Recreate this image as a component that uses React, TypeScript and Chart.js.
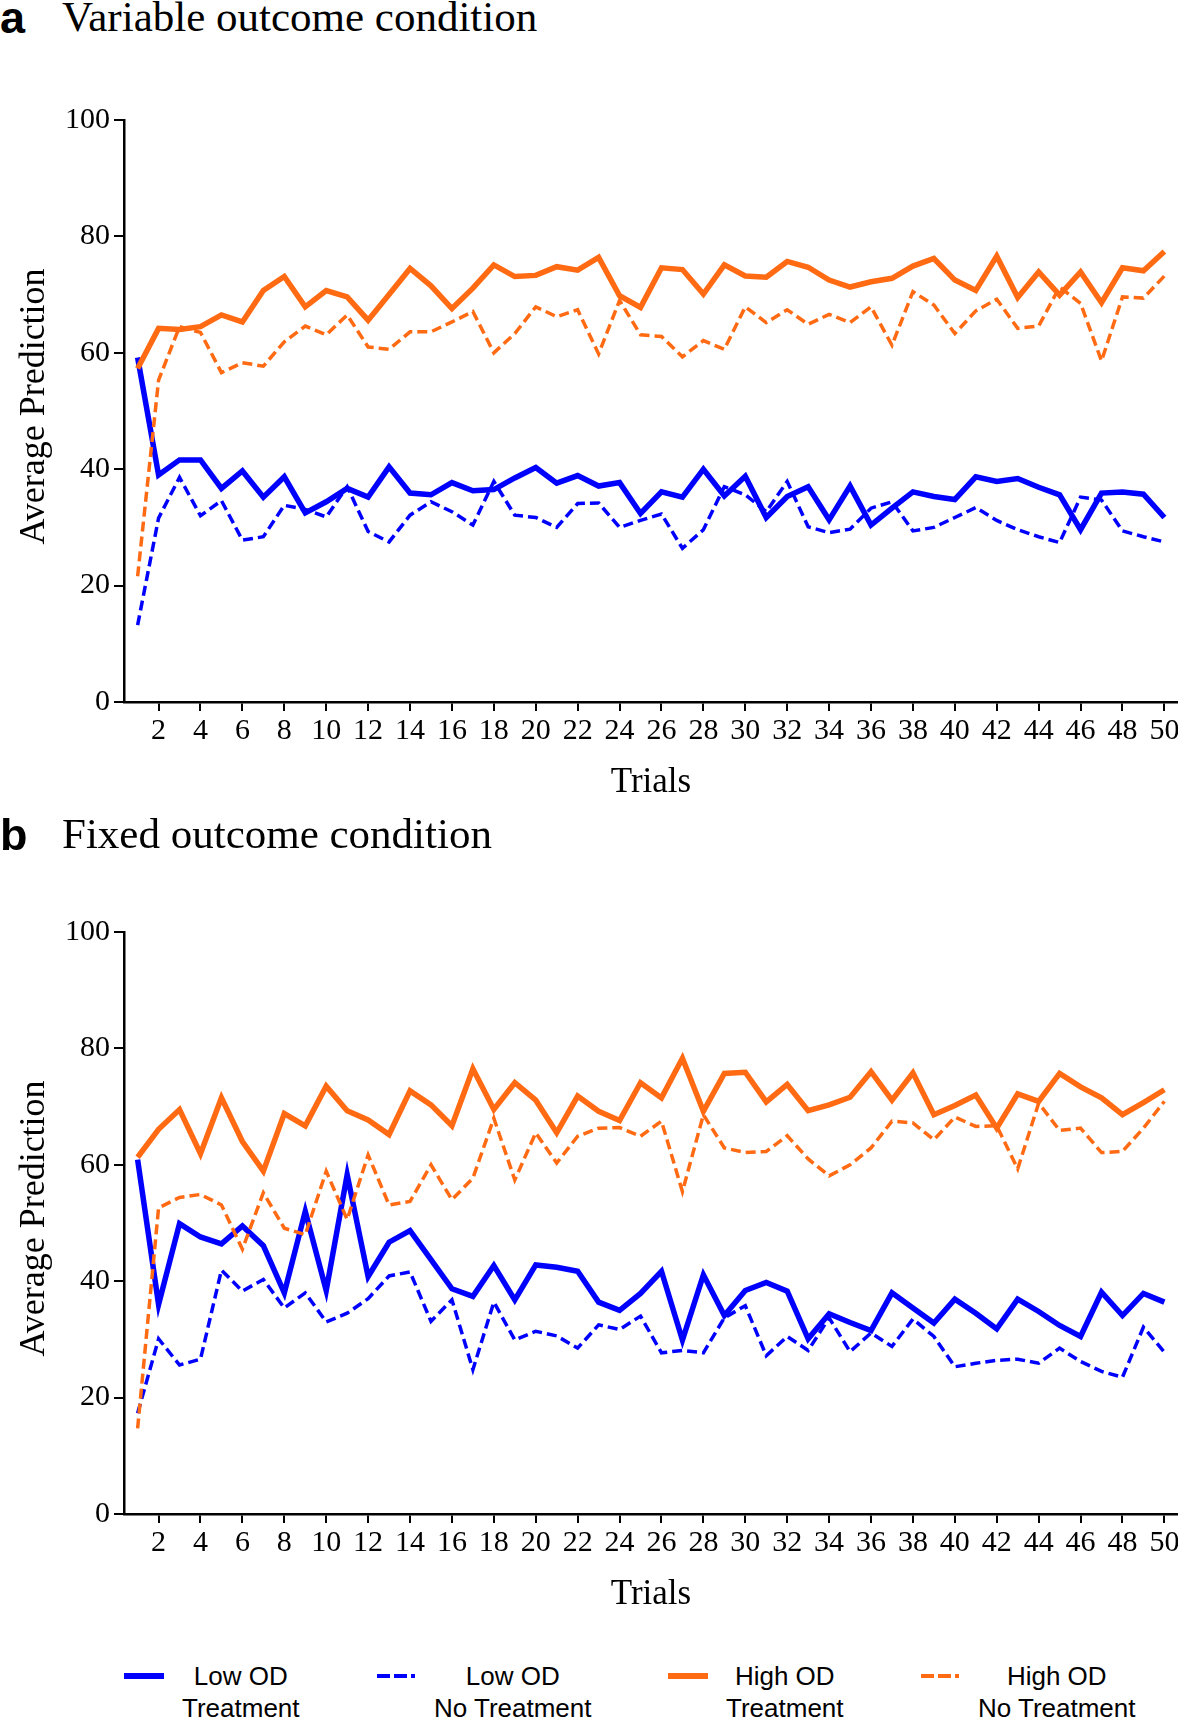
import { useEffect, useRef } from "react";
import { Chart, registerables } from "chart.js";

Chart.register(...registerables);

// ---------------- data ----------------
const trials = [
  1, 2, 3, 4, 5, 6, 7, 8, 9, 10, 11, 12, 13, 14, 15, 16, 17, 18, 19, 20, 21, 22, 23, 24, 25,
  26, 27, 28, 29, 30, 31, 32, 33, 34, 35, 36, 37, 38, 39, 40, 41, 42, 43, 44, 45, 46, 47, 48, 49, 50,
];
const xTickValues = [2, 4, 6, 8, 10, 12, 14, 16, 18, 20, 22, 24, 26, 28, 30, 32, 34, 36, 38, 40, 42, 44, 46, 48, 50];
const yTickValues = [0, 20, 40, 60, 80, 100];

const seriesNames = ["Low OD Treatment", "Low OD No Treatment", "High OD Treatment", "High OD No Treatment"];

// Panel a: Variable outcome condition
const aLowTreatment = [
  59.2, 39.0, 41.6, 41.6, 36.7, 39.7, 35.2, 38.7, 32.5, 34.4, 36.7, 35.2, 40.4, 35.9, 35.6, 37.7, 36.3, 36.5, 38.5, 40.3,
  37.6, 38.9, 37.1, 37.7, 32.4, 36.1, 35.2, 40.0, 35.4, 38.8, 31.7, 35.3, 37.0, 31.3, 37.1, 30.4, 33.3, 36.1, 35.3, 34.8,
  38.7, 37.9, 38.4, 36.9, 35.6, 29.6, 35.9, 36.1, 35.7, 31.7,
];
const aLowNoTreatment = [
  13.2, 31.6, 38.6, 32.0, 34.6, 27.8, 28.4, 33.8, 33.1, 31.8, 37.0, 29.3, 27.5, 32.1, 34.4, 32.7, 30.4, 37.9, 32.1, 31.7,
  30.0, 34.1, 34.2, 30.0, 31.2, 32.3, 26.4, 29.6, 37.0, 35.6, 32.7, 37.9, 30.1, 29.1, 29.7, 33.3, 34.4, 29.4, 30.0, 31.7,
  33.4, 31.2, 29.6, 28.4, 27.4, 35.2, 34.7, 29.4, 28.4, 27.5,
];
const aHighTreatment = [
  57.3, 64.2, 64.0, 64.5, 66.5, 65.3, 70.7, 73.1, 67.9, 70.7, 69.6, 65.6, 70.0, 74.5, 71.5, 67.6, 71.1, 75.1, 73.1, 73.3,
  74.8, 74.2, 76.4, 69.8, 67.8, 74.6, 74.3, 70.1, 75.1, 73.2, 73.0, 75.7, 74.7, 72.5, 71.3, 72.2, 72.8, 74.9, 76.2, 72.5,
  70.7, 76.6, 69.5, 73.9, 69.9, 73.9, 68.6, 74.6, 74.1, 77.4,
];
const aHighNoTreatment = [
  21.6, 55.3, 64.5, 63.5, 56.6, 58.3, 57.7, 61.9, 64.6, 63.1, 66.5, 61.0, 60.6, 63.6, 63.6, 65.3, 67.1, 60.0, 63.3, 67.9,
  66.2, 67.4, 59.8, 69.0, 63.1, 62.8, 59.3, 62.1, 60.6, 67.9, 65.2, 67.4, 64.9, 66.6, 65.2, 67.9, 61.3, 70.5, 68.2, 63.3,
  67.2, 69.2, 64.2, 64.6, 71.3, 68.5, 58.6, 69.6, 69.4, 73.2,
];

// Panel b: Fixed outcome condition
const bLowTreatment = [
  60.9, 36.0, 49.9, 47.6, 46.4, 49.5, 46.1, 38.0, 52.0, 38.4, 58.3, 40.8, 46.7, 48.7, 43.7, 38.7, 37.4, 42.7, 36.8, 42.8,
  42.4, 41.7, 36.4, 35.0, 37.9, 41.7, 29.9, 41.1, 34.1, 38.4, 39.8, 38.3, 30.1, 34.4, 32.9, 31.5, 38.0, 35.4, 32.8, 36.9,
  34.5, 31.8, 36.9, 34.8, 32.4, 30.5, 38.1, 34.1, 37.9, 36.4,
];
const bLowNoTreatment = [
  17.3, 30.1, 25.6, 26.6, 41.9, 38.3, 40.3, 35.4, 38.0, 33.0, 34.5, 37.0, 40.9, 41.6, 33.1, 36.8, 24.8, 36.4, 29.9, 31.4,
  30.6, 28.5, 32.5, 31.7, 34.0, 27.7, 28.1, 27.7, 33.7, 35.8, 27.2, 30.5, 28.1, 33.7, 27.9, 31.1, 28.8, 33.5, 30.5, 25.3,
  25.9, 26.4, 26.6, 25.9, 28.5, 26.2, 24.5, 23.5, 32.1, 27.8,
];
const bHighTreatment = [
  61.3, 66.1, 69.5, 61.9, 71.5, 64.0, 58.9, 68.8, 66.7, 73.5, 69.3, 67.7, 65.2, 72.7, 70.3, 66.7, 76.5, 69.5, 74.1, 71.1,
  65.5, 71.8, 69.2, 67.6, 74.1, 71.5, 78.3, 69.2, 75.7, 75.9, 70.8, 73.8, 69.3, 70.3, 71.6, 76.0, 71.1, 75.8, 68.6, 70.2,
  72.0, 66.3, 72.2, 70.9, 75.7, 73.4, 71.5, 68.6, 70.7, 72.9,
];
const bHighNoTreatment = [
  14.7, 52.6, 54.4, 54.9, 53.1, 45.5, 55.2, 49.1, 48.0, 58.9, 50.6, 61.7, 53.1, 53.7, 60.0, 54.0, 57.7, 68.0, 57.4, 65.5,
  60.3, 64.9, 66.3, 66.4, 64.9, 67.5, 55.4, 68.6, 62.9, 62.1, 62.3, 65.0, 61.0, 58.1, 60.0, 62.9, 67.5, 67.2, 64.3, 68.2,
  66.6, 66.7, 59.3, 70.6, 65.9, 66.3, 62.1, 62.3, 66.3, 70.9,
];

// ---------------- style ----------------
const BLUE = "#0000ff";
const ORANGE = "#ff6a13";
const SERIF = "'Liberation Serif', 'Times New Roman', Times, serif";
const SANS = "'Liberation Sans', Arial, Helvetica, sans-serif";

Chart.defaults.font.family = SERIF;
Chart.defaults.color = "#000";

const CANVAS_W = 1200;
const CANVAS_H = 720;

function LinePanel({ series, top, padTop, padBottom }: { series: number[][]; top: number; padTop: number; padBottom: number }) {
  const ref = useRef<HTMLCanvasElement>(null);
  useEffect(() => {
    const canvas = ref.current!;
    const chart = new Chart(canvas, {
      type: "line",
      data: {
        datasets: series.map((vals, i) => ({
          label: seriesNames[i],
          data: trials.map((t, j) => ({ x: t, y: vals[j] })),
          borderColor: i < 2 ? BLUE : ORANGE,
          backgroundColor: i < 2 ? BLUE : ORANGE,
          borderWidth: i % 2 === 0 ? 5.5 : 3.5,
          borderDash: i % 2 === 0 ? [] : [10, 5],
          pointRadius: 0,
          tension: 0,
          fill: false,
          order: 3 - i,
        })),
      },
      options: {
        animation: false,
        responsive: false,
        events: [],
        layout: { padding: { top: padTop, right: CANVAS_W - 1178, bottom: padBottom, left: 0 } },
        plugins: {
          legend: { display: false },
          tooltip: { enabled: false },
          title: { display: false },
        },
        scales: {
          x: {
            type: "linear",
            min: 0.35,
            max: 50.65,
            afterBuildTicks: (s: any) => {
              s.ticks = xTickValues.map((v) => ({ value: v }));
            },
            afterFit: (s: any) => {
              s.height = 102;
            },
            ticks: {
              font: { size: 30 },
              color: "#000",
              padding: 2,
              maxRotation: 0,
              minRotation: 0,
              autoSkip: false,
              callback: (v: any) => String(v),
            },
            grid: { drawOnChartArea: false, drawTicks: true, tickLength: 9, color: "#000", lineWidth: 2 },
            border: { display: true, color: "#000", width: 2.5 },
            title: { display: true, text: "Trials", font: { size: 35 }, color: "#000", padding: { top: 0, bottom: 0 } },
          },
          y: {
            type: "linear",
            min: 0,
            max: 100,
            afterBuildTicks: (s: any) => {
              s.ticks = yTickValues.map((v) => ({ value: v }));
            },
            afterFit: (s: any) => {
              s.width = 124;
            },
            ticks: { font: { size: 30 }, color: "#000", padding: 4, callback: (v: any) => String(v) },
            grid: { drawOnChartArea: false, drawTicks: true, tickLength: 10, color: "#000", lineWidth: 2 },
            border: { display: true, color: "#000", width: 2.5 },
            title: {
              display: true,
              text: " Average Prediction",
              font: { size: 36 },
              color: "#000",
              padding: { top: 13, bottom: 0 },
            },
          },
        },
      },
    } as any);
    return () => chart.destroy();
  }, []);
  return (
    <canvas
      ref={ref}
      width={CANVAS_W}
      height={CANVAS_H}
      style={{ position: "absolute", left: 0, top, width: CANVAS_W, height: CANVAS_H }}
    />
  );
}

function PanelTitle({ letter, text, top }: { letter: string; text: string; top: number }) {
  return (
    <>
      <div
        style={{
          position: "absolute",
          left: 0,
          top: top + 1,
          fontFamily: SANS,
          fontWeight: "bold",
          fontSize: 45,
          lineHeight: "40px",
          whiteSpace: "nowrap",
        }}
      >
        {letter}
      </div>
      <div
        style={{
          position: "absolute",
          left: 62,
          top,
          fontFamily: SERIF,
          fontSize: 43,
          lineHeight: "40px",
          whiteSpace: "nowrap",
        }}
      >
        {text}
      </div>
    </>
  );
}

const legendLines = [
  ["Low OD", "Treatment"],
  ["Low OD", "No Treatment"],
  ["High OD", "Treatment"],
  ["High OD", "No Treatment"],
];
const legendLefts = [124, 376, 668, 920];

function Legend() {
  return (
    <>
      {legendLines.map((lines, i) => {
        const color = i < 2 ? BLUE : ORANGE;
        const dashed = i % 2 === 1;
        return (
          <div
            key={i}
            style={{ position: "absolute", left: legendLefts[i], top: 1660, display: "flex", alignItems: "flex-start" }}
          >
            <svg width={40} height={32} style={{ display: "block" }}>
              <line
                x1={1}
                y1={16}
                x2={39}
                y2={16}
                stroke={color}
                strokeWidth={dashed ? 4 : 6}
                strokeDasharray={dashed ? "13 4" : undefined}
                strokeLinecap={dashed ? "butt" : "round"}
              />
            </svg>
            <div
              style={{
                marginLeft: 18,
                fontFamily: SANS,
                fontSize: 26,
                lineHeight: "32px",
                textAlign: "center",
                whiteSpace: "nowrap",
                color: "#000",
              }}
            >
              {lines.map((l, k) => (
                <div key={k}>{l}</div>
              ))}
            </div>
          </div>
        );
      })}
    </>
  );
}

export default function App() {
  return (
    <div
      style={{
        position: "absolute",
        left: 0,
        top: 0,
        width: 1178,
        height: 1718,
        overflow: "hidden",
        background: "#fff",
      }}
    >
      <PanelTitle letter="a" text="Variable outcome condition" top={-3} />
      <LinePanel series={[aLowTreatment, aLowNoTreatment, aHighTreatment, aHighNoTreatment]} top={90} padTop={30} padBottom={6} />
      <PanelTitle letter="b" text="Fixed outcome condition" top={814} />
      <LinePanel series={[bLowTreatment, bLowNoTreatment, bHighTreatment, bHighNoTreatment]} top={900} padTop={32} padBottom={4} />
      <Legend />
    </div>
  );
}
